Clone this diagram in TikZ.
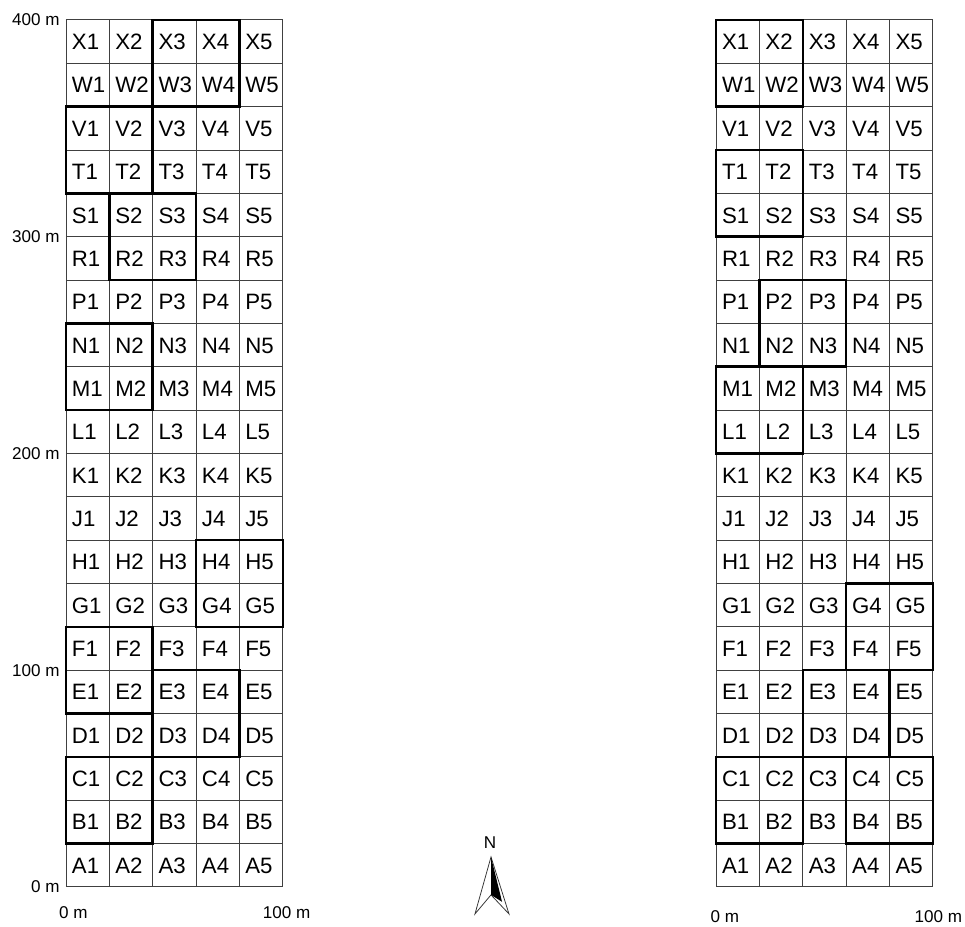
\documentclass[tikz,border=0pt]{standalone}
\usepackage{fontspec}
\setmainfont{Liberation Sans}
\usepackage{tikz}

\begin{document}
\begin{tikzpicture}[
x=0.5mm,y=0.5mm,
cell/.style={anchor=base west,inner sep=0pt,font=\fontsize{14.6}{15}\selectfont},
axis/.style={inner sep=0pt,font=\fontsize{11.2}{12}\selectfont},
grid line/.style={draw=black!75,line width=0.6pt},
block/.style={draw=black,line width=1.6pt}
]
\useasboundingbox (-30.45,-18.45) rectangle (414.8,409.2);

% Plot grids (left plan at 0, right plan at 300)
\foreach \ox/\g in {0/L,300/R}{
  \foreach \k in {0,...,5}
    \draw[grid line] (\ox+\k*20,0) -- (\ox+\k*20,400);
  \foreach \k in {0,...,20}
    \draw[grid line] (\ox,\k*20) -- (\ox+100,\k*20);
  \foreach \r [count=\i from 0] in {A,B,C,D,E,F,G,H,J,K,L,M,N,P,R,S,T,V,W,X}
    \foreach \c in {1,...,5}
      \node[cell] (\g-\r\c) at (\ox+\c*20-17.4,\i*20+6.3) {\r\c};
}

% Blocks, left plan
\foreach \a/\b/\c/\d in {40/360/80/400,0/320/40/360,20/280/60/320,0/220/40/260,
  60/120/100/160,0/80/40/120,40/60/80/100,0/20/40/60}
  \draw[block] (\a,\b) rectangle (\c,\d);

% Blocks, right plan
\foreach \a/\b/\c/\d in {0/360/40/400,0/300/40/340,20/240/60/280,0/200/40/240,
  60/100/100/140,40/60/80/100,0/20/40/60,60/20/100/60}
  \draw[block] (300+\a,\b) rectangle (300+\c,\d);

% Axis labels
\foreach \v in {0,100,200,300,400}
  \node[axis,anchor=east] (y\v) at (-2.8,\v) {\v\ m};
\node[axis] (lx0) at (3.4,-12) {0 m};
\node[axis] (lx100) at (101.8,-12) {100 m};
\node[axis] (rx0) at (304,-13.8) {0 m};
\node[axis] (rx100) at (402.5,-13.8) {100 m};

% North arrow
\node[axis] (north) at (195.6,20.3) {N};
\coordinate (tip) at (196.1,13.8);
\coordinate (notch) at (196.1,-3.7);
\draw[line width=0.5pt,draw=black!80] (tip) -- (204.4,-12.5) -- (notch) -- (188.7,-12.5) -- cycle;
\fill (tip) -- (201.2,-6.9) -- (notch) -- cycle;

\end{tikzpicture}
\end{document}
